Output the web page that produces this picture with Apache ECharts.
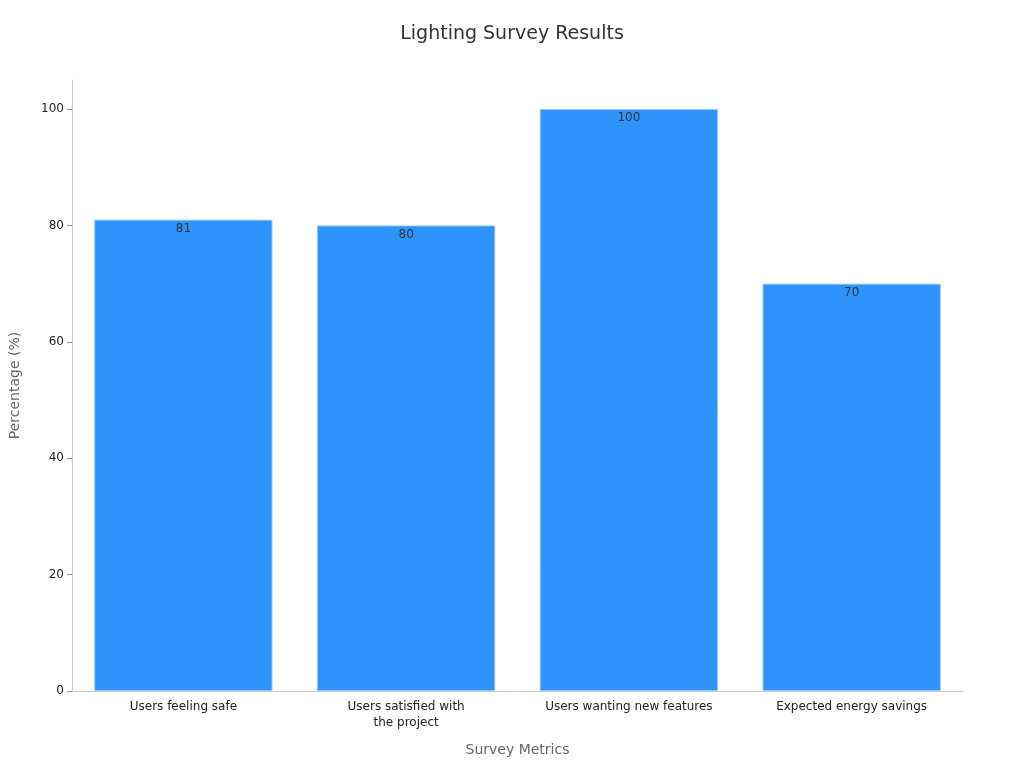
<!DOCTYPE html>
<html>
<head>
<meta charset="utf-8">
<script src="https://cdn.jsdelivr.net/npm/echarts@6/dist/echarts.min.js"></script>
<style>html,body{margin:0;padding:0;background:#fff}#chart{width:1024px;height:768px}</style>
</head>
<body>
<div id="chart"></div>
<script>
var categories = ['Users feeling safe', 'Users satisfied with\nthe project', 'Users wanting new features', 'Expected energy savings'];
var values = [81, 80, 100, 70];

var chart = echarts.init(document.getElementById('chart'));
chart.setOption({
	textStyle: { fontFamily: 'DejaVu Sans' },
	title: {
		text: 'Lighting Survey Results',
		left: 'center',
		top: 20,
		textStyle: { fontSize: 19, fontWeight: 'normal', color: '#333' }
	},
	grid: { left: 68, right: 61, top: 80, bottom: 77 },
	xAxis: {
		type: 'category',
		data: categories,
		name: 'Survey Metrics',
		nameLocation: 'middle',
		nameGap: 52,
		nameTextStyle: { fontSize: 14, color: '#666' },
		axisLine: { lineStyle: { color: '#ccc' } },
		axisTick: { alignWithLabel: true, lineStyle: { color: '#999' } },
		axisLabel: { color: '#222', fontSize: 12, interval: 0, lineHeight: 16 }
	},
	yAxis: {
		type: 'value',
		min: 0,
		max: 105,
		interval: 20,
		name: 'Percentage (%)',
		nameLocation: 'middle',
		nameGap: 50,
		nameTextStyle: { fontSize: 14, color: '#666' },
		axisLine: { show: true, lineStyle: { color: '#ccc' } },
		axisTick: { show: true, lineStyle: { color: '#999' } },
		axisLabel: { color: '#222', fontSize: 12, showMaxLabel: false },
		splitLine: { show: false }
	},
	series: [{
		type: 'bar',
		data: values,
		barWidth: '80%',
		itemStyle: { color: '#2E93FA', borderColor: '#8cc4fb', borderWidth: 1 },
		label: { show: true, position: 'insideTop', color: '#333', fontSize: 12, offset: [0, -2] }
	}]
});
</script>
</body>
</html>
